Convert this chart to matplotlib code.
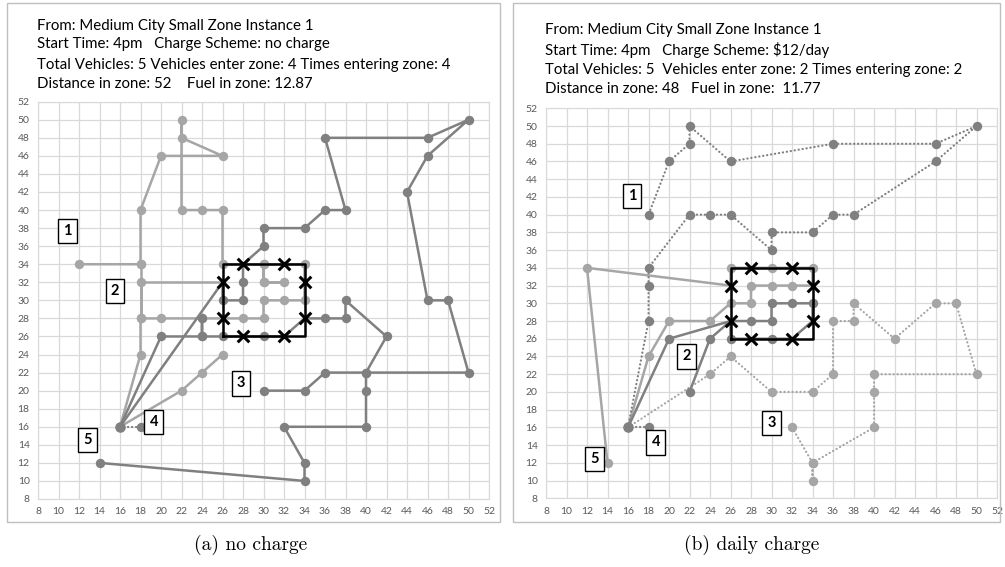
import matplotlib.pyplot as plt
from matplotlib.patches import Rectangle

# --- colours ---
LIGHT = '#a6a6a6'
DARK = '#808080'

# zone box and its gate points (same in both panels)
zone_x = [26, 34, 34, 26, 26]
zone_y = [26, 26, 34, 34, 26]
gate_x = [28, 32, 26, 34, 26, 34, 28, 32]
gate_y = [34, 34, 32, 32, 28, 28, 26, 26]

depot = (16, 16)

# ---------------- panel (a): no charge ----------------
a_light1_x = [16, 22, 24, 26]
a_light1_y = [16, 20, 22, 24]
a_light2_x = [16, 18, 18, 20, 24, 26, 28, 30, 30, 32, 34, 34, 30, 30, 32, 30, 30, 26, 26, 24, 22, 22, 22, 26, 20, 18, 18, 12]
a_light2_y = [16, 24, 28, 28, 28, 28, 28, 28, 30, 30, 30, 34, 34, 32, 32, 32, 34, 34, 40, 40, 40, 50, 48, 46, 46, 40, 34, 34]
a_light3_x = [26, 18, 18, 18]
a_light3_y = [32, 32, 28, 34]
a_dark1_x = [16, 26, 26, 28, 28, 28, 30, 30, 34, 36, 38, 36, 46, 50, 46, 44, 46, 48, 50, 40, 36, 34, 30]
a_dark1_y = [16, 32, 30, 30, 32, 34, 36, 38, 38, 40, 40, 48, 48, 50, 46, 42, 30, 30, 22, 22, 22, 20, 20]
a_dark2_x = [16, 20, 24, 24, 24, 26, 28, 30, 32, 34, 36, 38, 38, 42, 40, 40, 40, 32, 34, 34, 14]
a_dark2_y = [16, 26, 26, 28, 26, 26, 26, 26, 26, 28, 28, 28, 30, 26, 22, 20, 16, 16, 12, 10, 12]
a_dot_x = [16, 18]
a_dot_y = [16, 16]

a_labels = ['1', '2', '3', '4', '5']
a_label_x = [10.9, 15.5, 27.8, 19.3, 12.8]
a_label_y = [37.7, 31.0, 20.8, 16.5, 14.5]

a_header = [
    "From: Medium City Small Zone Instance 1",
    "Start Time: 4pm   Charge Scheme: no charge",
    "Total Vehicles: 5 Vehicles enter zone: 4 Times entering zone: 4",
    "Distance in zone: 52    Fuel in zone: 12.87",
]

# ---------------- panel (b): daily charge ----------------
b_dot1_x = [16, 18, 18, 18, 22, 24, 26, 30, 30, 34, 36, 38, 46, 50, 46, 36, 26, 22, 22, 20, 18]
b_dot1_y = [16, 28, 32, 34, 40, 40, 40, 36, 38, 38, 40, 40, 46, 50, 48, 48, 46, 50, 48, 46, 40]
b_dot2_x = [16, 18]
b_dot2_y = [16, 16]
b_ldot_x = [16, 24, 26, 30, 34, 36, 36, 38, 38, 42, 46, 48, 50, 40, 40, 40, 34, 34, 34, 32]
b_ldot_y = [16, 22, 24, 20, 20, 22, 28, 28, 30, 26, 30, 30, 22, 22, 20, 16, 12, 10, 12, 16]
b_dark_x = [16, 20, 26, 28, 30, 30, 32, 34, 34, 32, 30, 28, 26, 26, 24, 22]
b_dark_y = [16, 26, 28, 28, 28, 30, 30, 30, 28, 26, 26, 26, 26, 28, 26, 20]
b_light_x = [16, 18, 20, 24, 26, 28, 28, 30, 32, 34, 34, 32, 30, 28, 26, 26, 12, 14]
b_light_y = [16, 24, 28, 28, 30, 30, 32, 32, 32, 32, 34, 34, 34, 34, 34, 32, 34, 12]

b_labels = ['1', '2', '3', '4', '5']
b_label_x = [16.4, 21.7, 30.0, 18.7, 12.7]
b_label_y = [42.1, 24.0, 16.5, 14.3, 12.4]

b_header = [
    "From: Medium City Small Zone Instance 1",
    "Start Time: 4pm   Charge Scheme: \\$12/day",
    "Total Vehicles: 5  Vehicles enter zone: 2 Times entering zone: 2",
    "Distance in zone: 48   Fuel in zone:  11.77",
]

W, H = 1005, 567
fig = plt.figure(figsize=(W / 100, H / 100), dpi=100)
plt.rcParams['font.family'] = ['Lato', 'DejaVu Sans']

gates = set(zip(gate_x, gate_y))
DOTS = (0, (0.1, 1.7))


def draw_route(ax, xs, ys, color, dotted=False):
    if dotted:
        ax.plot(xs, ys, color=color, lw=1.6, ls=DOTS, zorder=2, dash_capstyle='round')
    else:
        ax.plot(xs, ys, color=color, lw=1.8, zorder=2, solid_capstyle='round')
    pts = [(x, y) for x, y in zip(xs, ys) if (x, y) not in gates and (x, y) != depot]
    if pts:
        px, py = zip(*pts)
        ax.scatter(px, py, s=46, color=color, zorder=3, linewidths=0)


def setup(ax):
    ax.set_xlim(8, 52)
    ax.set_ylim(8, 52)
    ax.set_xticks(range(8, 53, 2))
    ax.set_yticks(range(8, 53, 2))
    ax.grid(color='#d9d9d9', lw=0.9, zorder=0)
    ax.set_axisbelow(True)
    for s in ax.spines.values():
        s.set_color('#d9d9d9')
    ax.tick_params(length=0, labelsize=7.5, colors='#595959', pad=6)


def draw_zone(ax):
    ax.plot(zone_x, zone_y, color='black', lw=1.8, zorder=4)
    ax.scatter(gate_x, gate_y, marker='x', s=70, color='black', linewidths=2.2, zorder=5)
    ax.scatter([depot[0]], [depot[1]], s=58, color=DARK, zorder=3, linewidths=0)


def draw_labels(ax, labels, xs, ys):
    for t, x, y in zip(labels, xs, ys):
        ax.text(x, y, t, fontsize=10.5, fontweight='bold', ha='center', va='center', zorder=6,
                bbox=dict(boxstyle='square,pad=0.35', fc='white', ec='black', lw=1))


# panel (a)
ax1 = fig.add_axes([38 / W, 1 - 499 / H, 451 / W, 397.3 / H])
setup(ax1)
draw_route(ax1, a_light1_x, a_light1_y, LIGHT)
draw_route(ax1, a_light2_x, a_light2_y, LIGHT)
draw_route(ax1, a_light3_x, a_light3_y, LIGHT)
draw_route(ax1, a_dark1_x, a_dark1_y, DARK)
draw_route(ax1, a_dark2_x, a_dark2_y, DARK)
draw_route(ax1, a_dot_x, a_dot_y, DARK, dotted=True)
draw_zone(ax1)
draw_labels(ax1, a_labels, a_label_x, a_label_y)

# panel (b)
ax2 = fig.add_axes([546 / W, 1 - 498.3 / H, 451 / W, 390 / H])
setup(ax2)
draw_route(ax2, b_ldot_x, b_ldot_y, LIGHT, dotted=True)
draw_route(ax2, b_light_x, b_light_y, LIGHT)
draw_route(ax2, b_dot1_x, b_dot1_y, DARK, dotted=True)
draw_route(ax2, b_dot2_x, b_dot2_y, DARK, dotted=True)
draw_route(ax2, b_dark_x, b_dark_y, DARK)
draw_zone(ax2)
draw_labels(ax2, b_labels, b_label_x, b_label_y)

# header text
for i, line in enumerate(a_header):
    fig.text(37 / W, 1 - [25.7, 44.3, 65, 84][i] / H, line, fontsize=10.8, va='center', color='black')
for i, line in enumerate(b_header):
    fig.text(545 / W, 1 - [30, 50, 70, 89][i] / H, line, fontsize=10.8, va='center', color='black')

# panel frames
fig.add_artist(Rectangle((7 / W, 1 - 522 / H), 493 / W, 519 / H, transform=fig.transFigure,
                         fill=False, ec='#bfbfbf', lw=1))
fig.add_artist(Rectangle((513 / W, 1 - 522 / H), 487 / W, 519 / H, transform=fig.transFigure,
                         fill=False, ec='#bfbfbf', lw=1))

# captions
fig.text(251 / W, 1 - 545 / H, "(a) no charge", fontsize=14, family='cmr10', ha='center', va='center')
fig.text(752 / W, 1 - 545 / H, "(b) daily charge", fontsize=14, family='cmr10', ha='center', va='center')

fig.savefig('out.png', dpi=100)
